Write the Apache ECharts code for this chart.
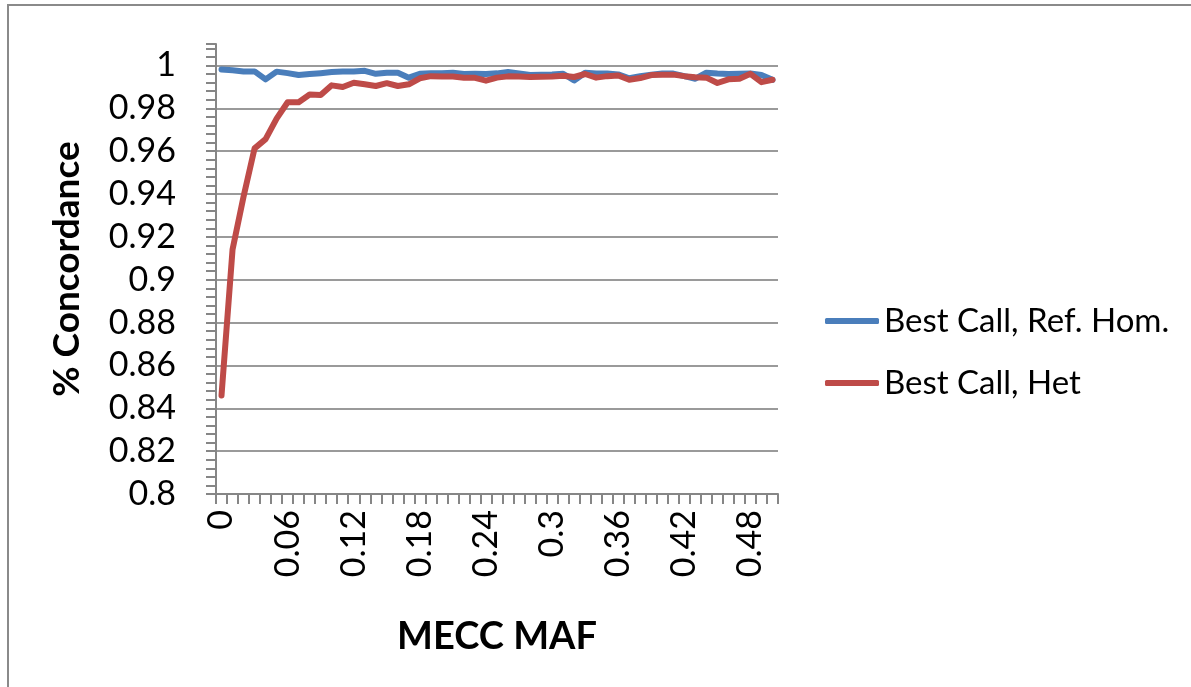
<!DOCTYPE html>
<html>
<head>
<meta charset="utf-8">
<script src="https://cdn.jsdelivr.net/npm/echarts@6/dist/echarts.min.js"></script>
<style>
  html, body { margin: 0; padding: 0; background: #fff; }
  #chart { width: 1191px; height: 687px; }
</style>
</head>
<body>
<div id="chart"></div>
<script>
// MAF bins 0.00 .. 0.50
const mafBins = ['0','0.01','0.02','0.03','0.04','0.05','0.06','0.07','0.08','0.09',
  '0.1','0.11','0.12','0.13','0.14','0.15','0.16','0.17','0.18','0.19',
  '0.2','0.21','0.22','0.23','0.24','0.25','0.26','0.27','0.28','0.29',
  '0.3','0.31','0.32','0.33','0.34','0.35','0.36','0.37','0.38','0.39',
  '0.4','0.41','0.42','0.43','0.44','0.45','0.46','0.47','0.48','0.49','0.5'];

const refHomConcordance = [
  0.9981, 0.9977, 0.9972, 0.9972, 0.9935, 0.9971, 0.9964, 0.9955, 0.9960, 0.9964,
  0.9969, 0.9972, 0.9972, 0.9975, 0.9961, 0.9966, 0.9966, 0.9943, 0.9961, 0.9964,
  0.9964, 0.9966, 0.9960, 0.9961, 0.9960, 0.9963, 0.9969, 0.9963, 0.9955, 0.9957,
  0.9958, 0.9961, 0.9930, 0.9966, 0.9962, 0.9962, 0.9958, 0.9940, 0.9950, 0.9957,
  0.9962, 0.9962, 0.9950, 0.9938, 0.9966, 0.9962, 0.9960, 0.9961, 0.9962, 0.9955,
  0.9933];

const hetConcordance = [
  0.8460, 0.9140, 0.9388, 0.9613, 0.9656, 0.9752, 0.9828, 0.9828, 0.9864, 0.9862,
  0.9907, 0.9899, 0.9919, 0.9912, 0.9904, 0.9917, 0.9904, 0.9912, 0.9940, 0.9950,
  0.9948, 0.9948, 0.9943, 0.9942, 0.9929, 0.9943, 0.9949, 0.9948, 0.9946, 0.9947,
  0.9948, 0.9952, 0.9946, 0.9960, 0.9943, 0.9950, 0.9953, 0.9933, 0.9941, 0.9955,
  0.9957, 0.9957, 0.9950, 0.9945, 0.9943, 0.9918, 0.9935, 0.9938, 0.9961, 0.9922,
  0.9933];

const seriesNames = ['Best Call, Ref. Hom.', 'Best Call, Het'];
const seriesColors = ['#4A7EBB', '#BE4B48'];

const axisGrey = '#868686';
const gridGrey = '#9a9a9a';
const labelFont = 'Lato, "Open Sans", sans-serif';

const chart = echarts.init(document.getElementById('chart'), null, { renderer: 'canvas' });

chart.setOption({
  backgroundColor: '#ffffff',
  animation: false,
  graphic: [{
    type: 'rect',
    shape: { x: 8, y: 5, width: 1400, height: 1000 },
    style: { fill: 'none', stroke: '#8a8a8a', lineWidth: 2 },
    silent: true
  }],
  grid: { left: 216, right: 413, top: 44, bottom: 193 },
  legend: {
    orient: 'vertical',
    left: 820,
    top: 296,
    icon: 'roundRect',
    itemWidth: 54,
    itemHeight: 6,
    itemGap: 22,
    textStyle: { fontFamily: labelFont, fontSize: 33, color: '#000', lineHeight: 40 },
    data: seriesNames
  },
  xAxis: {
    type: 'category',
    data: mafBins,
    boundaryGap: true,
    name: 'MECC MAF',
    nameLocation: 'middle',
    nameGap: 124,
    nameTextStyle: { fontFamily: labelFont, fontWeight: 'bold', fontSize: 38, color: '#000', verticalAlign: 'top' },
    axisLine: { show: true, lineStyle: { color: axisGrey, width: 2 } },
    axisTick: { show: true, interval: 0, length: 10, lineStyle: { color: axisGrey, width: 2 } },
    axisLabel: {
      interval: 5,
      rotate: 90,
      margin: 16,
      fontFamily: labelFont,
      fontSize: 34,
      color: '#000'
    },
    splitLine: { show: false }
  },
  yAxis: {
    type: 'value',
    min: 0.8,
    max: 1.01,
    interval: 0.02,
    name: '% Concordance',
    nameLocation: 'middle',
    nameRotate: 90,
    nameGap: 130,
    nameTextStyle: { fontFamily: labelFont, fontWeight: 'bold', fontSize: 37, color: '#000' },
    axisLine: { show: true, lineStyle: { color: axisGrey, width: 2 } },
    axisTick: { show: true, length: 10, lineStyle: { color: axisGrey, width: 2 } },
    minorTick: { show: true, splitNumber: 5, length: 10, lineStyle: { color: axisGrey, width: 2 } },
    axisLabel: {
      margin: 40,
      showMaxLabel: false,
      fontFamily: labelFont,
      fontSize: 34,
      color: '#000',
      formatter: function (v) { return v > 1.0001 ? '' : String(+v.toFixed(2)); }
    },
    splitLine: { show: true, showMinLine: false, showMaxLine: false, lineStyle: { color: gridGrey, width: 2 } }
  },
  series: [
    {
      name: seriesNames[0],
      type: 'line',
      data: refHomConcordance,
      symbol: 'none',
      color: seriesColors[0],
      lineStyle: { color: seriesColors[0], width: 6, cap: 'round', join: 'round' },
      z: 2
    },
    {
      name: seriesNames[1],
      type: 'line',
      data: hetConcordance,
      symbol: 'none',
      color: seriesColors[1],
      lineStyle: { color: seriesColors[1], width: 6, cap: 'round', join: 'round' },
      z: 3
    }
  ]
});
</script>
</body>
</html>
